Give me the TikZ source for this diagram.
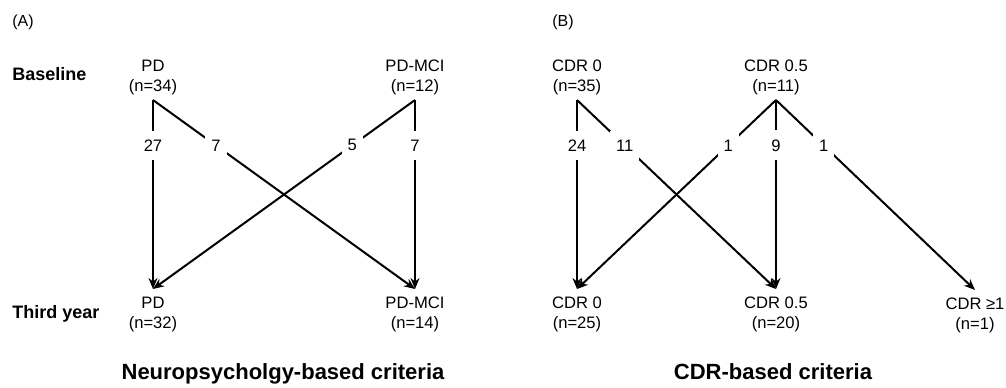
\documentclass[tikz,border=0pt]{standalone}
\usepackage{fontspec}
\setmainfont{Liberation Sans}
\usetikzlibrary{arrows.meta}
\begin{document}
\begin{tikzpicture}[x=0.5pt,y=-0.5pt,
  grp/.style={align=center,font=\fontsize{8.3}{10}\selectfont,inner xsep=0pt,outer sep=0pt},
  topgrp/.style={grp,anchor=south,inner ysep=2.5pt},
  botgrp/.style={grp,anchor=north,inner ysep=4pt},
  rowlab/.style={font=\fontsize{9}{11}\selectfont\bfseries,anchor=base west,inner sep=0pt},
  panel/.style={font=\fontsize{8}{10}\selectfont,anchor=base west,inner sep=0pt},
  title/.style={font=\fontsize{11}{13}\selectfont\bfseries,anchor=base,inner sep=0pt},
  flow/.style={line width=1pt,-{Stealth[length=5.5pt,width=4.5pt]}},
  num/.style={fill=white,font=\fontsize{8.3}{10}\selectfont,inner xsep=3pt,inner ysep=4.5pt,pos=0.24}]
\useasboundingbox (0,0) rectangle (1006,387);
% panel A
\node[panel] (pa) at (12,26) {(A)};
\node[rowlab] (base) at (12,80) {Baseline};
\node[rowlab] (third) at (12,318) {Third year};
\node[topgrp] (a1) at (153,100) {PD\\(n=34)};
\node[topgrp] (a2) at (415,100) {PD-MCI\\(n=12)};
\node[botgrp] (b1) at (153,289) {PD\\(n=32)};
\node[botgrp] (b2) at (415,289) {PD-MCI\\(n=14)};
\draw[flow] (a1.south) -- node[num] (n27) {27} (b1.north);
\draw[flow] (a1.south) -- node[num] (n7a) {7} (b2.north);
\draw[flow] (a2.south) -- node[num] (n5) {5} (b1.north);
\draw[flow] (a2.south) -- node[num] (n7b) {7} (b2.north);
\node[title] (ta) at (283,379) {Neuropsycholgy-based criteria};
% panel B
\node[panel] (pb) at (552,26) {(B)};
\node[topgrp] (c1) at (577,100) {CDR 0\\(n=35)};
\node[topgrp] (c2) at (776,100) {CDR 0.5\\(n=11)};
\node[botgrp] (d1) at (577,289) {CDR 0\\(n=25)};
\node[botgrp] (d2) at (776,289) {CDR 0.5\\(n=20)};
\node[botgrp] (d3) at (975,290) {CDR ≥1\\(n=1)};
\draw[flow] (c1.south) -- node[num] (n24) {24} (d1.north);
\draw[flow] (c1.south) -- node[num] (n11) {11} (d2.north);
\draw[flow] (c2.south) -- node[num] (n1a) {1} (d1.north);
\draw[flow] (c2.south) -- node[num] (n9) {9} (d2.north);
\draw[flow] (c2.south) -- node[num] (n1b) {1} (d3.north);
\node[title] (tb) at (773,379) {CDR-based criteria};
\end{tikzpicture}
\end{document}
